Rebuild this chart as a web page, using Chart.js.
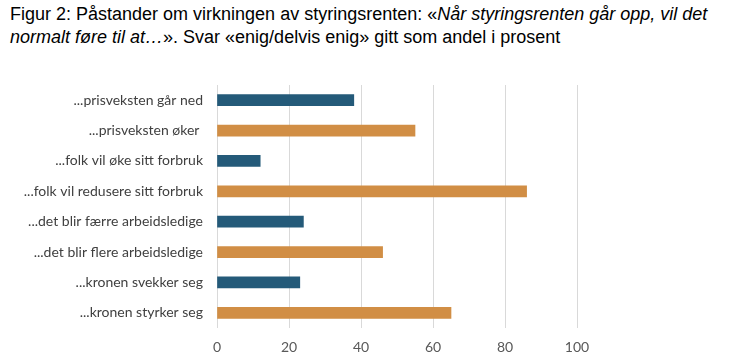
<!DOCTYPE html>
<html>
<head>
<meta charset="utf-8">
<script src="https://cdn.jsdelivr.net/npm/chart.js@4"></script>
<style>
  body { margin: 0; background: #fff; width: 735px; height: 364px; overflow: hidden; position: relative; }
  #title { position: absolute; left: 10px; top: 3px; width: 725px; font-family: "Liberation Sans", Arial, sans-serif; font-size: 18px; line-height: 23px; color: #000; }
  #chart-box { position: absolute; left: 0; top: 60px; width: 735px; height: 304px; }
</style>
</head>
<body>
<div id="title">Figur 2: Påstander om virkningen av styringsrenten: «<i>Når styringsrenten går opp, vil det normalt føre til at…</i>». Svar «enig/delvis enig» gitt som andel i prosent</div>
<div id="chart-box"><canvas id="chart"></canvas></div>
<script>
const categories = [
    "...prisveksten går ned",
    "...prisveksten øker ",
    "...folk vil øke sitt forbruk",
    "...folk vil redusere sitt forbruk",
    "...det blir færre arbeidsledige",
    "...det blir flere arbeidsledige",
    "...kronen svekker seg",
    "...kronen styrker seg",
];
const agreeShare = [38, 55, 12, 86, 24, 46, 23, 65];
const xTicks = [0, 20, 40, 60, 80, 100];

const blue = "#245a79";
const orange = "#d18e45";
const barColors = categories.map((c, i) => (i % 2 === 0 ? blue : orange));

new Chart(document.getElementById("chart").getContext("2d"), {
    type: "bar",
    data: {
        labels: categories,
        datasets: [
            {
                label: "Enig/delvis enig",
                data: agreeShare,
                backgroundColor: barColors,
                barThickness: 11,
            },
        ],
    },
    options: {
        indexAxis: "y",
        responsive: true,
        maintainAspectRatio: false,
        animation: false,
        layout: {
            padding: { top: 25, right: 158, left: 0, bottom: 0 },
        },
        plugins: {
            legend: { display: false },
            tooltip: { enabled: false },
        },
        scales: {
            x: {
                min: 0,
                max: 100,
                afterBuildTicks: (scale) => {
                    scale.ticks = xTicks.map((v) => ({ value: v }));
                },
                afterFit: (scale) => {
                    scale.height = 36;
                },
                grid: {
                    color: "#d9d9d9",
                    drawTicks: false,
                },
                border: { display: false },
                ticks: {
                    color: "#595959",
                    padding: 11,
                    font: { family: "Lato", size: 14 },
                },
            },
            y: {
                afterFit: (scale) => {
                    scale.width = 217;
                },
                grid: { display: false, drawTicks: false },
                border: { display: false },
                ticks: {
                    color: "#404040",
                    padding: 14,
                    font: { family: "Lato", size: 14 },
                },
            },
        },
    },
});
</script>
</body>
</html>
